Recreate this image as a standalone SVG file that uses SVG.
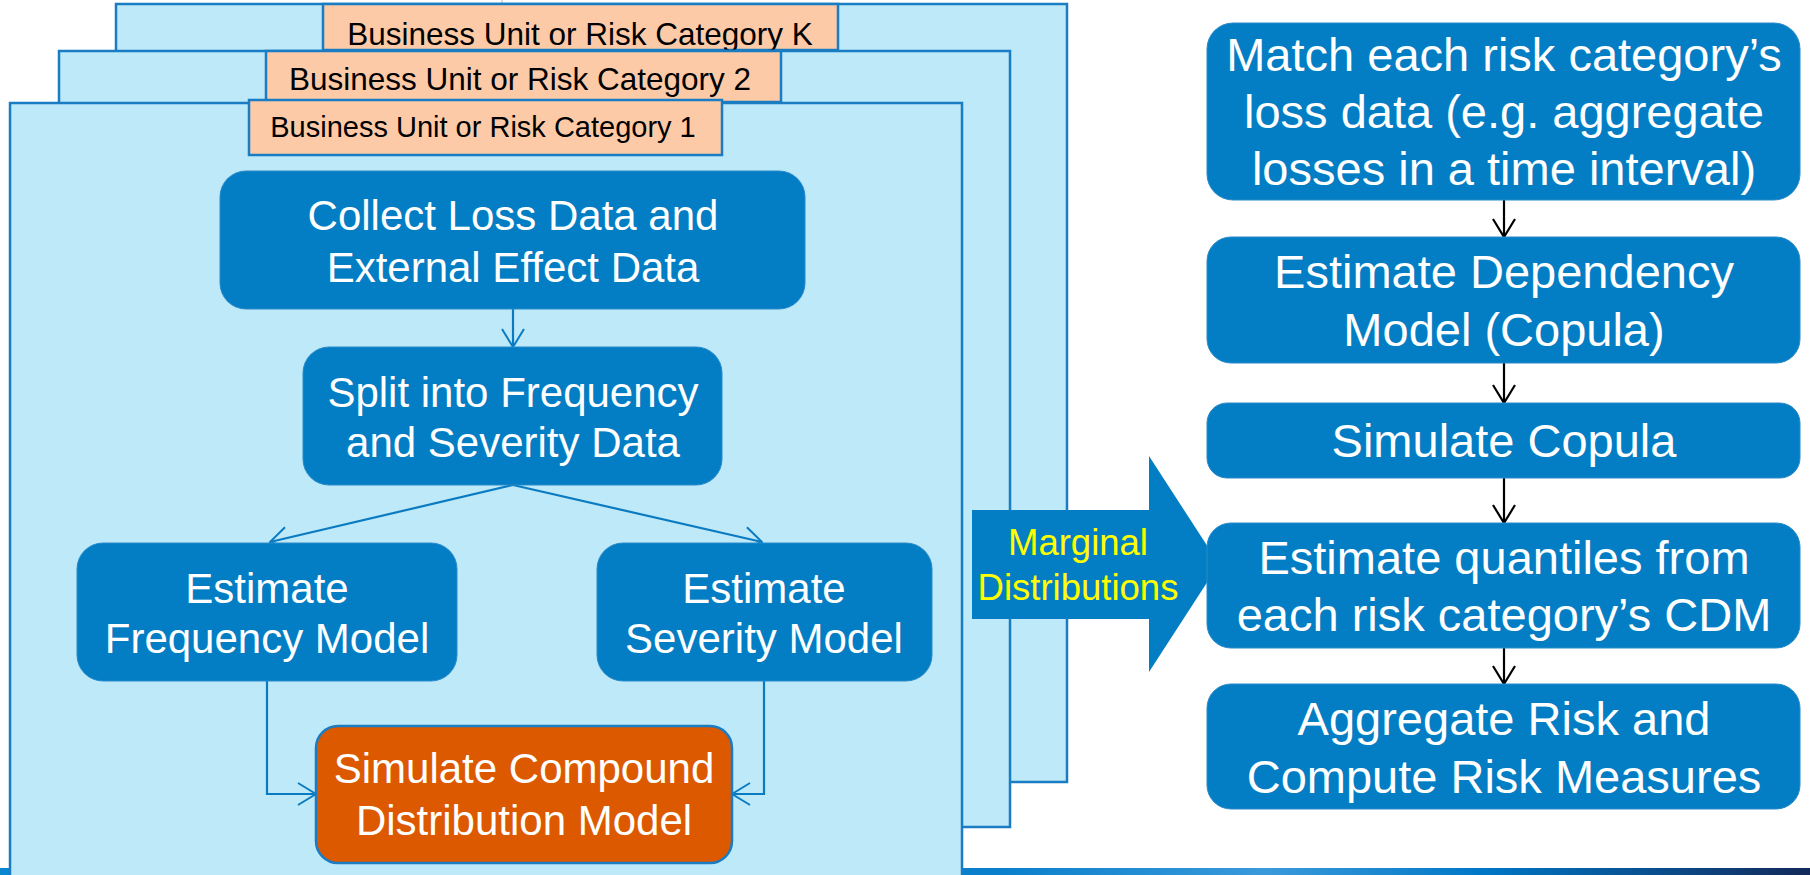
<svg xmlns="http://www.w3.org/2000/svg" width="1810" height="875" viewBox="0 0 1810 875">
<defs>
<linearGradient id="bar" x1="0" y1="0" x2="1" y2="0">
<stop offset="0" stop-color="#0B86D0"/>
<stop offset="0.55" stop-color="#0A7FCB"/>
<stop offset="0.70" stop-color="#3A9ADB"/>
<stop offset="0.82" stop-color="#0077C6"/>
<stop offset="1" stop-color="#13295A"/>
</linearGradient>
<marker id="ab" viewBox="0 0 20 24" refX="19" refY="12" markerWidth="20" markerHeight="24" markerUnits="userSpaceOnUse" orient="auto">
<path d="M1,1 L19,12 L1,23" fill="none" stroke="#0B7BC1" stroke-width="2"/>
</marker>
<marker id="ak" viewBox="0 0 20 24" refX="19" refY="12" markerWidth="20" markerHeight="24" markerUnits="userSpaceOnUse" orient="auto">
<path d="M1,1 L19,12 L1,23" fill="none" stroke="#000" stroke-width="2.2"/>
</marker>
</defs>
<style>
.panel{fill:#BDE9F8;stroke:#1A7CC2;stroke-width:2.5}
.lab{fill:#FDCAA7;stroke:#1A7CC2;stroke-width:2.5}
.labt{font-family:"Liberation Sans",Arial,sans-serif;fill:#000;text-anchor:middle}
.node{fill:#037EC4;stroke:#2A8ACB;stroke-width:1}
.orange{fill:#DD5900;stroke:#1A7CC2;stroke-width:2.5}
.nt{font-family:"Liberation Sans",Arial,sans-serif;font-size:42px;fill:#fff;text-anchor:middle}
.rt{font-family:"Liberation Sans",Arial,sans-serif;font-size:47px;fill:#fff;text-anchor:middle}
.mt{font-family:"Liberation Sans",Arial,sans-serif;font-size:36.5px;fill:#FFFF00;text-anchor:middle}
.cb{fill:none;stroke:#0B7BC1;stroke-width:2.2}
.ck{fill:none;stroke:#000;stroke-width:2.2}
</style>
<rect x="0" y="0" width="1810" height="875" fill="#fff"/>
<rect x="0" y="868" width="1810" height="7" fill="url(#bar)"/>
<line x1="502" y1="0" x2="502" y2="5" stroke="#D0D0D0" stroke-width="1.5"/>

<g id="panel-k">
<rect class="panel" x="116" y="4" width="951" height="778"/>
<rect class="lab" x="323" y="4" width="515" height="46"/>
<text class="labt" x="580" y="45" font-size="31.5">Business Unit or Risk Category K</text>
</g>
<g id="panel-2">
<rect class="panel" x="59" y="51" width="951" height="776"/>
<rect class="lab" x="266" y="51" width="515" height="51"/>
<text class="labt" x="520" y="90" font-size="31.5">Business Unit or Risk Category 2</text>
</g>
<g id="panel-1">
<rect class="panel" x="10" y="103" width="952" height="780"/>
<rect class="lab" x="249" y="100" width="473" height="55"/>
<text class="labt" x="483" y="137" font-size="29">Business Unit or Risk Category 1</text>
</g>

<g id="marginal">
<polygon points="972,510 1149,510 1149,456 1219,564 1149,672 1149,619 972,619" fill="#037EC4"/>
<text class="mt" x="1078" y="555">Marginal</text>
<text class="mt" x="1078" y="600">Distributions</text>
</g>

<g id="connectors">
<line class="cb" x1="513" y1="309" x2="513" y2="347" marker-end="url(#ab)"/>
<line class="cb" x1="513" y1="485" x2="270" y2="542" marker-end="url(#ab)"/>
<line class="cb" x1="513" y1="485" x2="762" y2="542" marker-end="url(#ab)"/>
<polyline class="cb" points="267,681 267,794 316,794" marker-end="url(#ab)"/>
<polyline class="cb" points="764,681 764,794 732,794" marker-end="url(#ab)"/>
<line class="ck" x1="1504" y1="200" x2="1504" y2="237" marker-end="url(#ak)"/>
<line class="ck" x1="1504" y1="363" x2="1504" y2="403" marker-end="url(#ak)"/>
<line class="ck" x1="1504" y1="478" x2="1504" y2="523" marker-end="url(#ak)"/>
<line class="ck" x1="1504" y1="648" x2="1504" y2="684" marker-end="url(#ak)"/>
</g>

<g id="collect">
<rect class="node" x="220" y="171" width="585" height="138" rx="26"/>
<text class="nt" x="513" y="230">Collect Loss Data and</text>
<text class="nt" x="513" y="282">External Effect Data</text>
</g>
<g id="split">
<rect class="node" x="303" y="347" width="419" height="138" rx="26"/>
<text class="nt" x="513" y="407">Split into Frequency</text>
<text class="nt" x="513" y="457">and Severity Data</text>
</g>
<g id="frequency">
<rect class="node" x="77" y="543" width="380" height="138" rx="26"/>
<text class="nt" x="267" y="603">Estimate</text>
<text class="nt" x="267" y="653">Frequency Model</text>
</g>
<g id="severity">
<rect class="node" x="597" y="543" width="335" height="138" rx="26"/>
<text class="nt" x="764" y="603">Estimate</text>
<text class="nt" x="764" y="653">Severity Model</text>
</g>
<g id="simulate-compound">
<rect class="orange" x="316" y="726" width="416" height="137" rx="22"/>
<text class="nt" x="524" y="783">Simulate Compound</text>
<text class="nt" x="524" y="835">Distribution Model</text>
</g>

<g id="match">
<rect class="node" x="1207" y="23" width="593" height="177" rx="26"/>
<text class="rt" x="1504" y="71">Match each risk category’s</text>
<text class="rt" x="1504" y="128">loss data (e.g. aggregate</text>
<text class="rt" x="1504" y="185">losses in a time interval)</text>
</g>
<g id="dependency">
<rect class="node" x="1207" y="237" width="593" height="126" rx="24"/>
<text class="rt" x="1504" y="288">Estimate Dependency</text>
<text class="rt" x="1504" y="346">Model (Copula)</text>
</g>
<g id="copula">
<rect class="node" x="1207" y="403" width="593" height="75" rx="20"/>
<text class="rt" x="1504" y="457">Simulate Copula</text>
</g>
<g id="quantiles">
<rect class="node" x="1207" y="523" width="593" height="125" rx="24"/>
<text class="rt" x="1504" y="574">Estimate quantiles from</text>
<text class="rt" x="1504" y="631">each risk category’s CDM</text>
</g>
<g id="aggregate">
<rect class="node" x="1207" y="684" width="593" height="125" rx="24"/>
<text class="rt" x="1504" y="735">Aggregate Risk and</text>
<text class="rt" x="1504" y="793">Compute Risk Measures</text>
</g>
</svg>
